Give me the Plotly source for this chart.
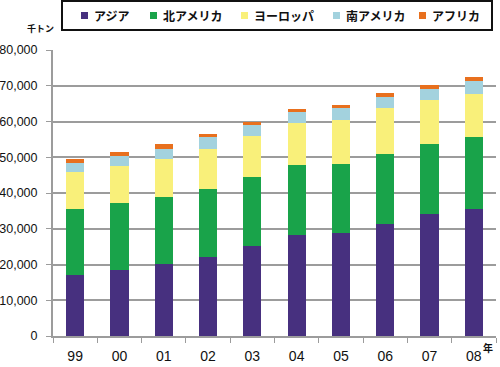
import plotly.graph_objects as go

years = ["99", "00", "01", "02", "03", "04", "05", "06", "07", "08"]
asia = [17200, 18600, 20250, 22050, 25200, 28300, 28750, 31450, 34000, 35500]
north_america = [18400, 18600, 18500, 18950, 19400, 19400, 19500, 19600, 19800, 20150]
europe = [10300, 10450, 10850, 11400, 11400, 11850, 12250, 12600, 12150, 11950]
south_america = [2550, 2800, 2800, 3150, 2900, 3000, 3250, 3300, 3250, 3750]
africa = [1050, 1100, 1200, 1050, 1050, 950, 950, 950, 1100, 1200]

series = [
    ("アジア", asia, "#47307f"),
    ("北アメリカ", north_america, "#19a34a"),
    ("ヨーロッパ", europe, "#f9f07a"),
    ("南アメリカ", south_america, "#a3d2de"),
    ("アフリカ", africa, "#e8701e"),
]

W, H = 500, 367
L, R, T, B = 53, 4, 50, 31
pw, ph = W - L - R, H - T - B

def px(x):
    return (x - L) / pw

def py(y):
    return (H - B - y) / ph

fig = go.Figure()
for name, vals, color in series:
    fig.add_trace(go.Bar(x=years, y=vals, name=name, showlegend=False,
                         marker=dict(color=color, line=dict(width=0))))

fig.update_layout(
    width=W, height=H,
    barmode="stack", bargap=0.59,
    margin=dict(l=L, r=R, t=T, b=B, pad=0),
    plot_bgcolor="white", paper_bgcolor="white",
    font=dict(family="Arial, Liberation Sans, sans-serif", size=13, color="#111"),
    showlegend=False,
)
fig.update_yaxes(
    range=[0, 80000], tickvals=[0, 10000, 20000, 30000, 40000, 50000, 60000, 70000, 80000],
    tickformat=",d", showgrid=True, gridcolor="#9c9c9c", gridwidth=1.5,
    showline=True, linecolor="#9c9c9c", linewidth=2,
    ticks="outside", ticklen=5, tickcolor="#9c9c9c", ticklabelstandoff=6,
    zeroline=False, tickfont=dict(size=12.5), automargin=False,
)
fig.update_xaxes(
    showline=True, linecolor="#9c9c9c", linewidth=2,
    ticks="outside", ticklen=5, tickcolor="#9c9c9c", tickson="boundaries",
    showgrid=False, tickfont=dict(size=14), ticklabelstandoff=6, automargin=False,
)

# legend box (drawn manually to keep the compact layout of the original)
fig.add_shape(type="rect", xref="paper", yref="paper",
              x0=px(62), x1=px(492), y0=py(30), y1=py(1),
              line=dict(color="#111", width=2), fillcolor="white", layer="above")
legend_x = [81, 150, 241, 333, 419]
for (name, _, color), lx in zip(series, legend_x):
    fig.add_shape(type="rect", xref="paper", yref="paper",
                  x0=px(lx), x1=px(lx + 7), y0=py(19), y1=py(12),
                  line=dict(width=0), fillcolor=color, layer="above")
    fig.add_annotation(text="<b>" + name + "</b>", x=px(lx + 11), y=py(15.5),
                       xref="paper", yref="paper", xanchor="left", yanchor="middle",
                       showarrow=False,
                       font=dict(family="Noto Sans CJK JP", size=12, color="#111"))

fig.add_annotation(text="<b>千トン</b>", x=px(25), y=py(20), xref="paper", yref="paper",
                   showarrow=False, font=dict(family="Noto Sans CJK JP", size=9, color="#111"))
fig.add_annotation(text="<b>年</b>", x=px(495), y=py(357), xref="paper", yref="paper",
                   showarrow=False, font=dict(family="Noto Sans CJK JP", size=10, color="#111"))

fig.write_html("out.html", config={"displayModeBar": False},
               post_script="document.body.style.margin='0';")
